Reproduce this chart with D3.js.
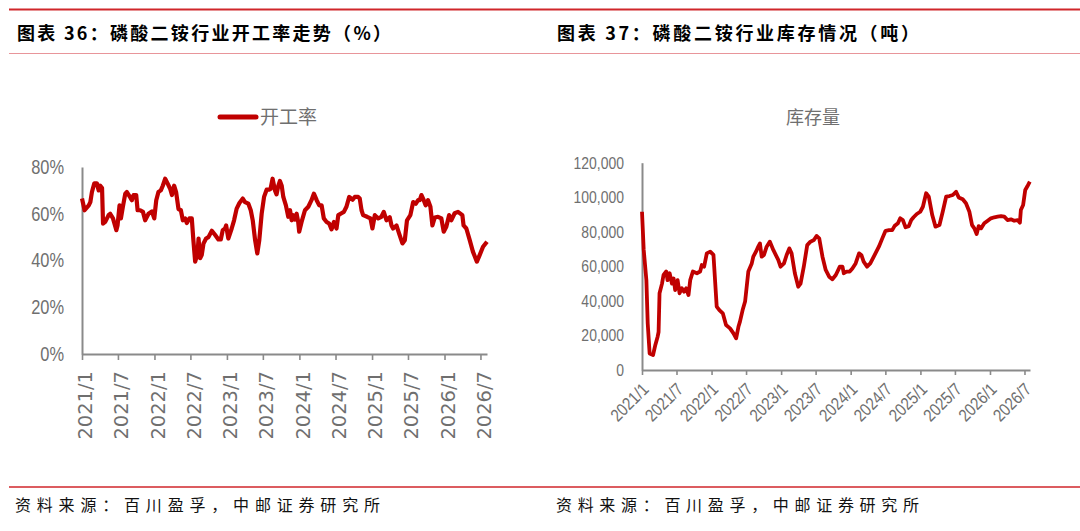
<!DOCTYPE html>
<html><head><meta charset="utf-8">
<script src="https://cdn.jsdelivr.net/npm/d3@7"></script>
<style>
html,body{margin:0;padding:0;background:#fff;}
svg{display:block;}
</style></head><body>
<svg id="c" width="1080" height="531"></svg>
<script>
// ---------- DATA ----------
const xTickLabels = ["2021/1","2021/7","2022/1","2022/7","2023/1","2023/7","2024/1","2024/7","2025/1","2025/7","2026/1","2026/7"];
const rateTicks = [0,20,40,60,80];
const stockTicks = [0,20000,40000,60000,80000,100000,120000];

const rateDates = ["2021-01-01","2021-01-14","2021-02-04","2021-02-12","2021-02-20","2021-03-04","2021-03-17","2021-03-26","2021-04-03","2021-04-12","2021-04-17","2021-04-28","2021-05-15","2021-05-23","2021-06-06","2021-06-23","2021-06-29","2021-07-09","2021-07-16","2021-07-26","2021-08-07","2021-08-15","2021-09-01","2021-09-09","2021-09-18","2021-10-01","2021-10-08","2021-10-21","2021-11-04","2021-11-15","2021-12-02","2021-12-19","2021-12-31",
"2022-01-10","2022-01-21","2022-02-02","2022-02-12","2022-02-24","2022-03-08","2022-03-21","2022-03-30","2022-04-10","2022-04-20","2022-05-02","2022-05-14","2022-05-24","2022-06-05","2022-06-13","2022-06-26","2022-07-08","2022-07-16","2022-07-25","2022-08-06","2022-08-11","2022-08-19","2022-08-27","2022-09-05","2022-09-18","2022-09-30","2022-10-17","2022-11-02","2022-11-19","2022-12-01","2022-12-11","2022-12-23","2022-12-28",
"2023-01-08","2023-01-25","2023-02-06","2023-02-19","2023-03-05","2023-03-22","2023-04-02","2023-04-19","2023-05-01","2023-05-11","2023-05-23","2023-06-03","2023-06-13","2023-06-25","2023-07-07","2023-07-20","2023-08-03","2023-08-09","2023-08-19","2023-08-31","2023-09-08","2023-09-17","2023-09-25","2023-10-04","2023-10-12","2023-10-25","2023-11-06","2023-11-15","2023-11-23","2023-12-01","2023-12-10","2023-12-18","2023-12-26","2023-12-31",
"2024-01-12","2024-01-29","2024-02-15","2024-03-02","2024-03-14","2024-03-28","2024-04-10","2024-04-22","2024-05-03","2024-05-17","2024-05-30","2024-06-11","2024-06-23","2024-07-06","2024-07-15","2024-07-31","2024-08-12","2024-08-25","2024-09-08","2024-09-25","2024-10-06","2024-10-23","2024-10-31","2024-11-09","2024-11-17","2024-12-07","2024-12-24",
"2025-01-03","2025-01-15","2025-02-01","2025-02-17","2025-03-01","2025-03-15","2025-03-31","2025-04-09","2025-04-17","2025-05-04","2025-05-17","2025-06-03","2025-06-15","2025-06-26","2025-07-13","2025-07-27","2025-08-09","2025-08-21","2025-08-29","2025-09-07","2025-09-15","2025-09-28","2025-10-10","2025-10-22","2025-11-01","2025-11-13","2025-11-29","2025-12-16","2025-12-28",
"2026-01-10","2026-01-24","2026-02-04","2026-02-21","2026-03-10","2026-04-01","2026-04-07","2026-04-21","2026-05-08","2026-05-24","2026-06-13","2026-06-27","2026-07-14","2026-08-03"];
const rateValues = [66.5,61.5,63.6,65,69.3,73,73,70,72,71,55.8,56.5,59.4,60,58,53,55,63.6,58,63,68.6,69.3,67,65.8,68,68,61.5,61.5,60.8,57.2,60,61,58,
65.8,69.3,70,72,75,73,70.7,68,72,69.3,62,61.5,57.2,58,56,58,58,48.7,39.5,43,49.4,41,42.3,47.3,49.4,50,52.7,51,49,49,53,53.7,55,
49.4,53.7,57.2,62.2,64.6,66.5,65,64.3,61.5,57.2,48.7,43,48.7,60,67.2,70.3,70.3,70.7,75,70,68.3,72,74,72,67.2,63.6,58.7,61.5,57.2,59.4,57.5,60,56.5,52.3,
56.5,61.5,63,65.8,68.6,65.8,63.6,63.6,58,56.5,55.8,53.3,56.5,53.7,59.4,60.2,60.8,63,67.2,66,67.2,67.2,66.5,61.5,59.4,58.7,58,
53.7,59.4,58,58.7,60.8,57.2,58.5,55,53.7,55,51.6,47.3,48.7,57.2,59.4,65,64.3,65.8,65.8,68,66.5,63.6,65.8,63,55,58.4,58.7,58,52.3,
54.4,59.4,57.2,60.2,60.8,59.4,55,53.7,48.7,43.8,39.5,42.3,45.9,48];

const stockDates = ["2021-01-01","2021-01-10","2021-01-24","2021-01-31","2021-02-10","2021-02-28","2021-03-12","2021-03-24","2021-03-29","2021-04-03","2021-04-16","2021-04-24","2021-05-08","2021-05-15","2021-05-26","2021-06-07","2021-06-16","2021-06-24","2021-07-07","2021-07-17","2021-07-29","2021-08-10","2021-08-21","2021-09-02","2021-09-11","2021-09-25","2021-10-16","2021-11-02","2021-11-11","2021-11-23","2021-12-07","2021-12-25",
"2022-01-11","2022-01-28","2022-02-11","2022-03-01","2022-03-18","2022-04-08","2022-04-26","2022-05-10","2022-05-22","2022-05-30","2022-06-13","2022-06-26","2022-07-13","2022-07-31","2022-08-08","2022-08-22","2022-09-03","2022-09-12","2022-09-21","2022-10-03","2022-10-17","2022-11-03","2022-11-21","2022-12-17","2022-12-29",
"2023-01-16","2023-01-30","2023-02-13","2023-02-25","2023-03-14","2023-04-01","2023-04-13","2023-04-30","2023-05-18","2023-06-04","2023-06-22","2023-07-06","2023-07-20","2023-08-06","2023-08-23","2023-09-10","2023-09-27","2023-10-15","2023-11-05","2023-11-19","2023-11-26","2023-12-10","2023-12-27",
"2024-01-10","2024-01-27","2024-02-14","2024-02-26","2024-03-09","2024-03-27","2024-04-13","2024-05-06","2024-05-28","2024-06-15","2024-07-02","2024-07-20","2024-08-06","2024-08-18","2024-09-05","2024-09-17","2024-10-01","2024-10-15","2024-11-01","2024-11-14","2024-11-26","2024-12-13","2024-12-31",
"2025-01-14","2025-01-31","2025-02-14","2025-03-04","2025-03-21","2025-04-11","2025-04-28","2025-05-16","2025-06-02","2025-06-20","2025-07-07","2025-07-21","2025-08-11","2025-08-28","2025-09-15","2025-09-29","2025-10-11","2025-10-23","2025-11-03","2025-11-15","2025-12-02","2025-12-20",
"2026-01-06","2026-01-24","2026-02-10","2026-02-28","2026-03-17","2026-04-03","2026-04-21","2026-05-08","2026-05-26","2026-06-07","2026-06-12","2026-06-24","2026-07-05","2026-07-17","2026-07-29"];
const stockValues = [91600,69500,52000,27000,9600,8700,14500,19300,22000,44400,50000,55000,57000,52000,56000,50000,53000,46300,52000,44400,47300,45300,47300,43400,52000,57000,56000,57000,60800,59800,67500,68500,
66600,36700,34700,32800,26000,24100,21200,18300,25000,28000,34700,39600,57000,61700,65600,68500,71400,73300,65600,66600,71400,74300,69500,63700,59800,
61700,66600,70400,67500,56000,48200,50000,59800,72300,74300,75200,77600,76200,65600,57900,54000,52500,55000,59800,59800,56000,57000,57000,
58800,61700,67500,66600,62700,59800,61700,66600,71400,76200,80600,81000,81000,83300,84900,87800,86800,82600,83300,86800,88400,90300,91600,
94500,102300,100300,89700,83000,83900,91600,100300,100700,101300,103200,99900,98800,96500,91600,83900,82000,78700,83300,82000,84900,86400,
87800,88400,88800,89100,88800,86800,87200,86400,86800,85300,92600,95500,104200,106500,109000];

const titleLeft = "图表 36：磷酸二铵行业开工率走势（%）";
const titleRight = "图表 37：磷酸二铵行业库存情况（吨）";
const legendLeft = "开工率";
const legendRight = "库存量";
const source = "资料来源：百川盈孚，中邮证券研究所";

// ---------- DRAW ----------
const svg = d3.select("#c");
const parse = d3.timeParse("%Y-%m-%d");
const parseTick = d3.timeParse("%Y/%m");
const RED = "#c00000", TXT = "#6f6f6f", AX = "#8a8a8a", HRED = "#d0262b";
const CJK = "'Noto Sans CJK SC','Noto Sans',sans-serif";
const NUM = "'Liberation Sans',Arial,sans-serif";

// condense glyphs to mimic a narrow face (Arial Narrow ~ 82% of Arial)
function narrow(sel, k) {
  sel.each(function() {
    const w = this.getComputedTextLength();
    if (w > 0) d3.select(this).attr("textLength", w * k).attr("lengthAdjust", "spacingAndGlyphs");
  });
}

// header/footer rules
svg.append("line").attr("x1",9).attr("x2",1080).attr("y1",9.5).attr("y2",9.5)
  .attr("stroke",HRED).attr("stroke-width",2.2);
svg.append("line").attr("x1",9).attr("x2",1080).attr("y1",53.5).attr("y2",53.5)
  .attr("stroke","#e8959a").attr("stroke-width",1.2);
svg.append("line").attr("x1",9).attr("x2",1080).attr("y1",487).attr("y2",487)
  .attr("stroke",HRED).attr("stroke-width",1.6);

function txt(s, x, y, size, opts) {
  opts = opts || {};
  const t = svg.append("text").attr("x",x).attr("y",y).text(s)
    .attr("font-family", opts.family || CJK).attr("font-size", size)
    .attr("fill", opts.fill || "#000");
  if (opts.weight) t.attr("font-weight", opts.weight);
  if (opts.len) t.attr("textLength", opts.len).attr("lengthAdjust", opts.adj || "spacing");
  if (opts.anchor) t.attr("text-anchor", opts.anchor);
  return t;
}
txt(titleLeft, 17, 40, 18, {weight:"bold", len:374});
txt(titleRight, 557, 40, 18, {weight:"bold", len:362});
txt(source, 15, 511, 16, {len:365, fill:"#111"});
txt(source, 556, 511, 16, {len:363, fill:"#111"});

const tickDates = xTickLabels.map(parseTick);
const fmtTick = d3.timeFormat("%Y/%-m");

// ---------- LEFT CHART ----------
const xL = d3.scaleTime().domain([parse("2021-01-01"), parse("2026-08-03")]).range([82, 487]);
const yL = d3.scaleLinear().domain([0, 80]).range([354, 167]);

const gLy = svg.append("g").attr("transform","translate(82,0)")
  .call(d3.axisLeft(yL).tickValues(rateTicks).tickSize(0).tickSizeOuter(0).tickPadding(18).tickFormat(d => d + "%"));
const gLx = svg.append("g").attr("transform","translate(0,354)")
  .call(d3.axisBottom(xL).tickValues(tickDates).tickSize(6).tickSizeOuter(0).tickFormat(fmtTick));
gLx.selectAll(".tick text")
  .attr("transform","rotate(-90)").attr("text-anchor","end")
  .attr("x",-17).attr("y",3).attr("dy","0.35em")
  .attr("font-family","'DejaVu Sans',sans-serif").attr("font-size",19.5).attr("fill",TXT);
gLy.selectAll(".tick text").attr("font-family",NUM).attr("font-size",20).attr("fill",TXT)
  .call(narrow, 0.82);

svg.append("path")
  .attr("d", d3.line().x((d,i)=>xL(parse(rateDates[i]))).y(d=>yL(d))(rateValues))
  .attr("fill","none").attr("stroke",RED).attr("stroke-width",4.2).attr("stroke-linejoin","round");

// legend
svg.append("line").attr("x1",220).attr("x2",256).attr("y1",117).attr("y2",117)
  .attr("stroke",RED).attr("stroke-width",5).attr("stroke-linecap","round");
txt(legendLeft, 260, 124, 19, {fill:TXT});

// ---------- RIGHT CHART ----------
const xR = d3.scaleTime().domain([parse("2021-01-01"), parse("2026-07-30")]).range([642, 1030]);
const yR = d3.scaleLinear().domain([0, 120000]).range([370, 162.7]);

const gRy = svg.append("g").attr("transform","translate(642,0)")
  .call(d3.axisLeft(yR).tickValues(stockTicks).tickSize(0).tickSizeOuter(0).tickPadding(18).tickFormat(d3.format(",")));
const gRx = svg.append("g").attr("transform","translate(0,370)")
  .call(d3.axisBottom(xR).tickValues(tickDates).tickSize(5).tickSizeOuter(0).tickFormat(fmtTick));
gRx.selectAll(".tick text")
  .attr("transform","translate(3,16) rotate(-45)").attr("text-anchor","end")
  .attr("x",0).attr("y",0).attr("dy","0.35em")
  .attr("font-family",NUM).attr("font-size",17.5).attr("fill",TXT)
  .call(narrow, 0.85);
gRy.selectAll(".tick text").attr("font-family",NUM).attr("font-size",17).attr("fill",TXT)
  .call(narrow, 0.82);

svg.append("path")
  .attr("d", d3.line().x((d,i)=>xR(parse(stockDates[i]))).y(d=>yR(d))(stockValues))
  .attr("fill","none").attr("stroke",RED).attr("stroke-width",3.8).attr("stroke-linejoin","round");

txt(legendRight, 813, 124, 18, {fill:TXT, anchor:"middle"});

// axis styling
svg.selectAll(".domain").attr("stroke",AX).attr("stroke-width",2);
svg.selectAll(".tick line").attr("stroke",AX).attr("stroke-width",1.6);
</script>
</body></html>
